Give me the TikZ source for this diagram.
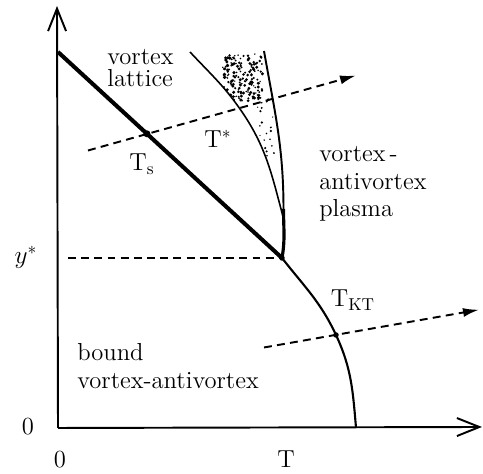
\documentclass[tikz,border=0pt]{standalone}
\usepackage{fontspec}
\usepackage{tikz}
\usetikzlibrary{arrows.meta, calc}

\begin{document}
\begin{tikzpicture}[
  every node/.style={font=\fontsize{14}{15.5}\selectfont\addfontfeatures{LetterSpace=4}},
  lbl/.style={inner sep=0pt, align=left},
  axis/.style={line width=1.1pt, -{Straight Barb[length=4.5mm,width=3.6mm,line width=1.1pt]}},
  melting/.style={line width=2.3pt},
  boundary/.style={line width=1.2pt},
  probe/.style={line width=1.1pt, dash pattern=on 4.5pt off 3pt,
    -{Latex[length=3.2mm,width=1.8mm]}},
  marker/.style={circle, fill, inner sep=0pt, minimum size=#1},
  marker/.default=1.4mm,
]
\useasboundingbox (0,0) rectangle (9.66,9.48);

% Axes
\coordinate (o) at (1.16,0.92);
\coordinate (ytip) at (1.14,9.36);
\coordinate (xtip) at (9.64,0.94);
\draw[axis] (o) -- (ytip);
\draw[axis] (o) -- (xtip);

% Phase boundaries
\coordinate (a) at (1.16,8.44);
\coordinate (p) at (5.64,4.32);
\coordinate (ts) at ($(a)!0.397!(p)$);
\coordinate (rt) at (5.28,8.46);
\coordinate (rm) at (5.67,5.30);
\coordinate (lt) at (3.80,8.44);
\coordinate (ls) at (4.80,7.30);
\coordinate (lm) at (5.66,5.15);
\coordinate (tkt) at (6.72,2.78);
\coordinate (kte) at (7.12,0.93);

\draw[melting] (a) -- (p);
\draw[boundary, line width=1.1pt] (rt) to[out=-80,in=90] (rm);
\draw[boundary, line width=1.8pt] (rm) to[out=-90,in=80] (p);
\draw[boundary, line width=0.9pt] (lt) to[out=-47,in=125] (ls) to[out=-55,in=105] (lm);
\draw[boundary] (p) to[out=-52,in=115] (tkt) to[out=-65,in=95] (kte);

% Fluctuation region
\begin{scope}
  \clip (lt) to[out=-47,in=125] (ls) to[out=-55,in=105] (lm) -- (rm)
    to[out=90,in=-80] (rt) -- cycle;
  \pgfmathsetseed{7}
  \foreach \k in {1,...,170} {
    \pgfmathsetmacro\dx{4.45+0.8*rnd}
    \pgfmathsetmacro\dy{7.45+0.95*rnd}
    \pgfmathsetmacro\dr{0.015+0.02*rnd}
    \fill (\dx,\dy) circle[radius=\dr];
  }
  \foreach \k in {1,...,28} {
    \pgfmathsetmacro\dx{5.15+0.35*rnd}
    \pgfmathsetmacro\dy{6.2+1.3*rnd}
    \pgfmathsetmacro\dr{0.012+0.015*rnd}
    \fill (\dx,\dy) circle[radius=\dr];
  }
\end{scope}

% Probe paths
\coordinate (u0) at (1.76,6.47);
\coordinate (u1) at (7.12,7.97);
\coordinate (h0) at (1.36,4.32);
\coordinate (d0) at (5.28,2.53);
\coordinate (d1) at (9.58,3.285);
\draw[probe] (u0) -- (u1);
\draw[probe, -] (h0) -- (p);
\draw[probe] (d0) -- (d1);

\node[marker] (tsdot) at (ts) {};
\node[marker=1.1mm] (pdot) at (p) {};
\node[marker=1.1mm] (tktdot) at (tkt) {};

% Labels
\node[lbl, anchor=west] (lattice) at (2.14,8.12) {vortex\\[-3pt]lattice};
\node[lbl] (tslbl) at (2.84,6.20) {$\mathrm{T_s}$};
\node[lbl] (tstar) at (4.36,6.70) {$\mathrm{T}^*$};
\node[lbl, anchor=west] (plasma) at (6.38,5.80) {vortex\,-\\antivortex\\plasma};
\node[lbl] (tktlbl) at (7.06,3.48) {$\mathrm{T}_{\mathrm{KT}}$};
\node[lbl, anchor=west] (bound) at (1.54,2.16) {bound\\vortex-antivortex};
\node[lbl] (ystar) at (0.52,4.34) {$y^*$};
\node[lbl] (yzero) at (0.56,0.94) {0};
\node[lbl] (xzero) at (1.20,0.28) {0};
\node[lbl] (xlbl) at (5.72,0.30) {T};

\end{tikzpicture}
\end{document}
